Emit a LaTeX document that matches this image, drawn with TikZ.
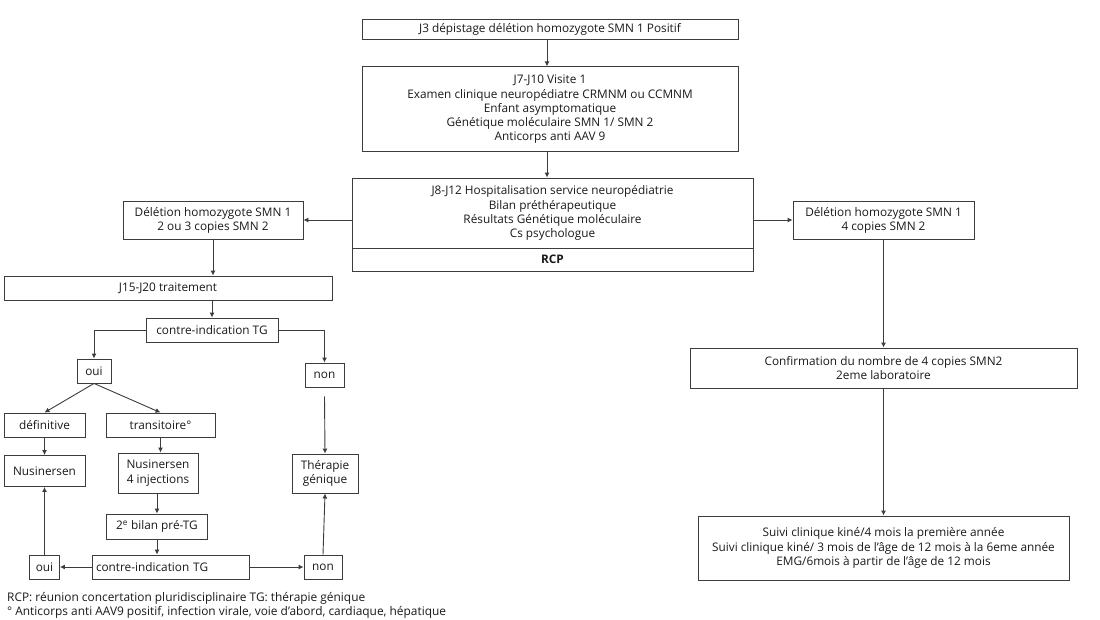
\documentclass[tikz,border=0pt]{standalone}
\usepackage{fontspec}
\setmainfont{Open Sans}
\usetikzlibrary{arrows.meta}
\definecolor{lncol}{HTML}{3C3C3C}
\definecolor{txcol}{HTML}{1A1A1A}
\begin{document}
\begin{tikzpicture}[x=1pt,y=-1pt,
  box/.style={draw=lncol, line width=0.9pt, inner sep=0pt, align=center, text=txcol,
              font=\fontsize{11.8}{14.2}\selectfont},
  arr/.style={draw=lncol, line width=0.9pt, -{Latex[length=5pt,width=5pt]}},
  note/.style={inner sep=0pt, anchor=base west, text=txcol, font=\fontsize{11.9}{12}\selectfont}]
\useasboundingbox (0,0) rectangle (1100,619);
\fill[white] (0,0) rectangle (1100,619);

% main column
\node[box, minimum width=376, minimum height=20] (top) at (550,29) {J3 dépistage délétion homozygote SMN 1 Positif};
\node[box, minimum width=376, minimum height=85] (visite) at (550,109.3)
  {J7-J10 Visite 1\\Examen clinique neuropédiatre CRMNM ou CCMNM\\Enfant asymptomatique\\Génétique moléculaire SMN 1/ SMN 2\\Anticorps anti AAV 9};
\node[box, minimum width=401, minimum height=70] (hosp) at (552.5,213)
  {J8-J12 Hospitalisation service neuropédiatrie\\Bilan préthérapeutique\\Résultats Génétique moléculaire\\Cs psychologue};
\node[box, minimum width=401, minimum height=23, font=\fontsize{11.8}{14.2}\selectfont\bfseries] (rcp) at (552.5,259.5) {RCP};

\draw[arr] (top.south -| 547,0) -- (visite.north -| 547,0);
\draw[arr] (visite.south -| 547,0) -- (hosp.north -| 547,0);

% left branch
\node[box, minimum width=180, minimum height=38] (lbox) at (213,220) {Délétion homozygote SMN 1\\2 ou 3 copies SMN 2};
\node[box, minimum width=328, minimum height=24.5] (j15) at (168,288.3) {J15-J20 traitement};
\node[box, minimum width=132, minimum height=24] (c1) at (212,330) {contre-indication TG};
\node[box, minimum width=34, minimum height=24] (oui1) at (94,371) {oui};
\node[box, minimum width=39, minimum height=24] (non1) at (324.5,375) {non};
\node[box, minimum width=81, minimum height=24] (def) at (44.5,425) {définitive};
\node[box, minimum width=109, minimum height=24] (trans) at (160.5,425) {transitoire°};
\node[box, minimum width=81, minimum height=31] (nus) at (44.5,471) {Nusinersen};
\node[box, minimum width=80, minimum height=40] (nus4) at (158,473) {Nusinersen\\4 injections};
\node[box, minimum width=66, minimum height=39] (ther) at (325,473.5) {Thérapie\\génique};
\node[box, minimum width=101, minimum height=25] (bilan) at (157,526.5) {2\textsuperscript{e} bilan pré-TG};
\node[box, minimum width=157, minimum height=24, text width=149, align=left] (c2) at (170.5,567) {contre-indication TG};
\node[box, minimum width=30, minimum height=24] (oui2) at (44.5,567) {oui};
\node[box, minimum width=38, minimum height=24] (non2) at (323,567) {non};

\draw[arr] (hosp.west |- lbox.east) -- (lbox.east);
\draw[arr] (lbox.south) -- (lbox.south |- j15.north);
\draw[arr] (c1.north |- j15.south) -- (c1.north);
\draw[arr] (c1.west) -| (oui1.north);
\draw[arr] (c1.east) -| (non1.north);
\draw[arr] (oui1.south) -- (def.north);
\draw[arr] (oui1.south) -- (trans.north);
\draw[arr] (def.south) -- (nus.north);
\draw[arr] (trans.south) -- (trans.south |- nus4.north);
\draw[arr] (non1.south) ++(0,9) -- (ther.north);
\draw[arr] (bilan.north |- nus4.south) -- (bilan.north);
\draw[arr] (bilan.south) -- (bilan.south |- c2.north);
\draw[arr] (c2.west) -- (oui2.east);
\draw[arr] (c2.east) -- (non2.west);
\draw[arr] (oui2.north) -- (nus.south);
\draw[arr] (non2.north) -- (ther.south);

% right branch
\node[box, minimum width=181, minimum height=38] (rbox) at (883.5,220) {Délétion homozygote SMN 1\\4 copies SMN 2};
\node[box, minimum width=387, minimum height=40] (conf) at (883.5,368) {Confirmation du nombre de 4 copies SMN2\\2eme laboratoire};
\node[box, minimum width=371, minimum height=64] (suivi) at (883.5,548)
  {Suivi clinique kiné/4 mois la première année\\Suivi clinique kiné/ 3 mois de l’âge de 12 mois à la 6eme année\\EMG/6mois à partir de l’âge de 12 mois};

\draw[arr] (hosp.east |- rbox.west) -- (rbox.west);
\draw[arr] (rbox.south) -- (conf.north);
\draw[arr] (conf.south) -- (suivi.north);

% notes
\node[note] (n1) at (7,601) {RCP: réunion concertation pluridisciplinaire TG: thérapie génique};
\node[note] (n2) at (7,615) {° Anticorps anti AAV9 positif, infection virale, voie d’abord, cardiaque, hépatique};
\end{tikzpicture}
\end{document}
